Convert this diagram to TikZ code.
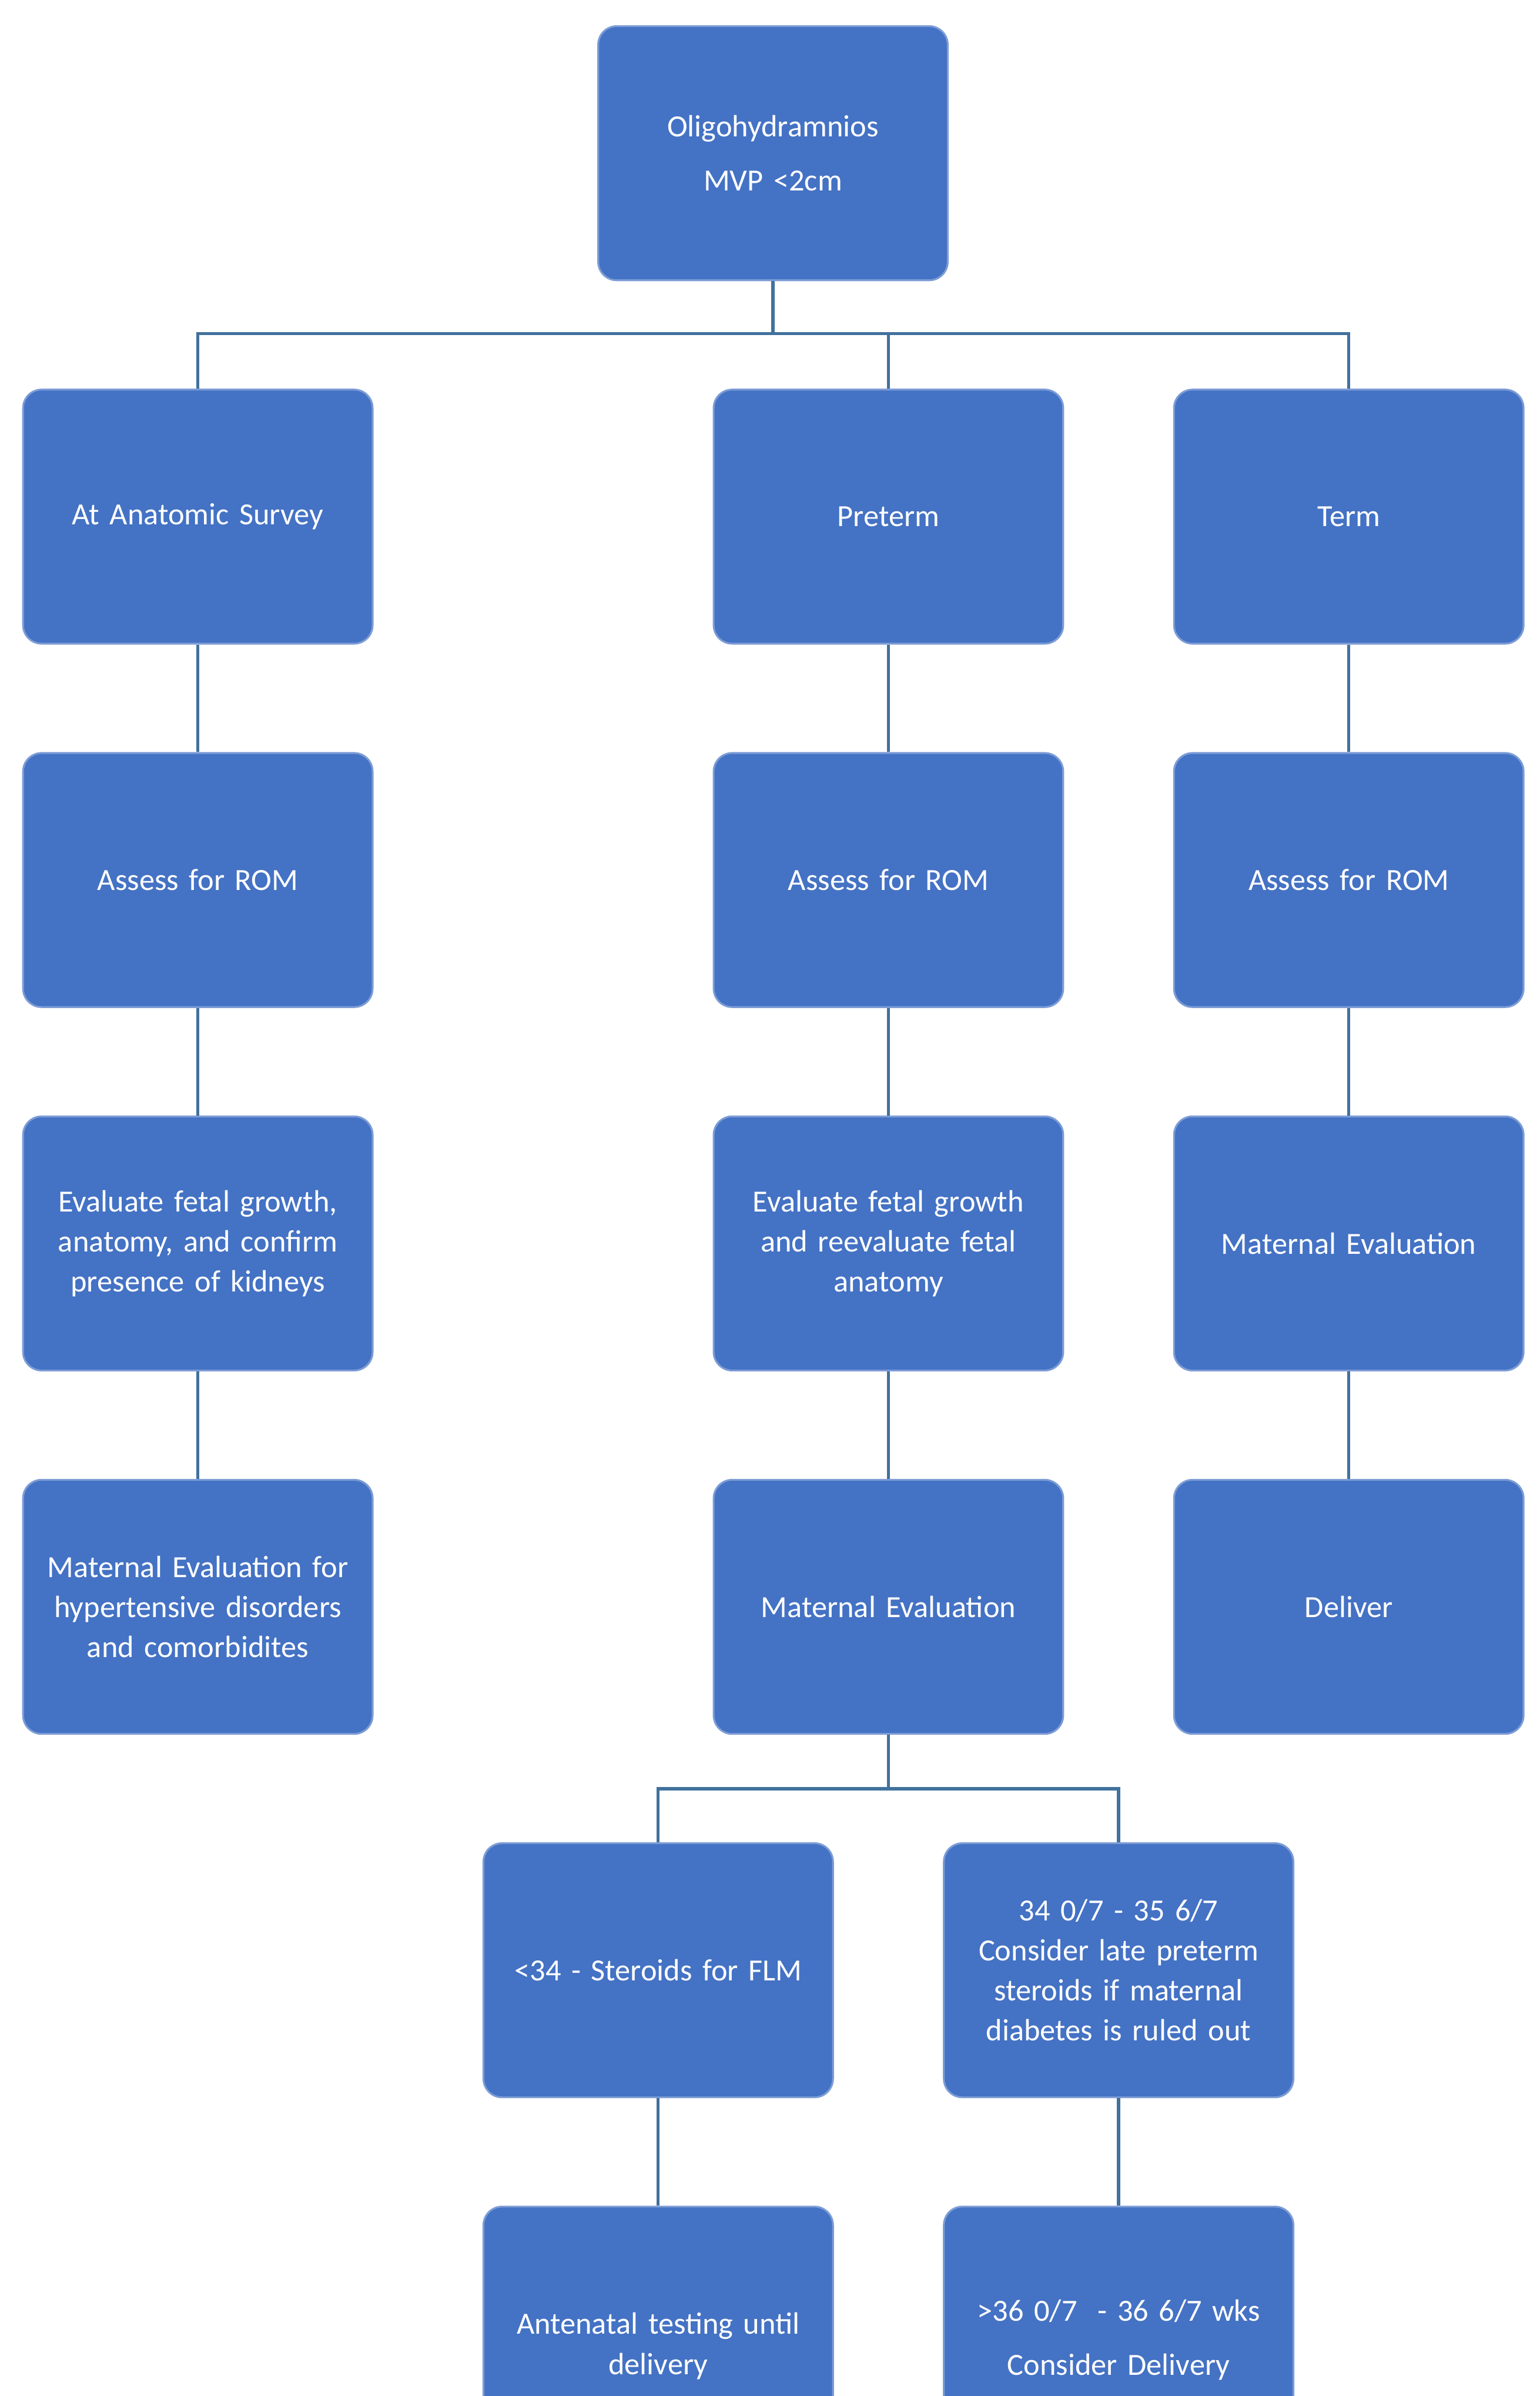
\documentclass[tikz,border=0pt]{standalone}
\usepackage{fontspec}
\setmainfont{Carlito}
\definecolor{boxblue}{HTML}{4472C4}
\definecolor{linecol}{HTML}{41719C}
\begin{document}
\begin{tikzpicture}[x=1pt,y=-1pt,
  box/.style={draw=boxblue!70!white,line width=1.2pt,fill=boxblue,rounded corners=12pt,
    minimum width=227pt,minimum height=165pt,text width=215pt,align=center,
    text=white,font=\fontsize{20}{26}\selectfont,inner sep=2pt},
  conn/.style={draw=linecol,line width=2pt}]
\useasboundingbox (0,0) rectangle (1000,1556);
\clip (0,0) rectangle (1000,1556);
\fill[white] (0,0) rectangle (1000,1556);
\node[box] (top) at (502,99.5) {Oligohydramnios\\[9pt]MVP {<}2cm};
\node[box] (a1) at (128.5,335.5) {At Anatomic Survey};
\node[box] (b1) at (577,335.5) {Preterm};
\node[box] (c1) at (876,335.5) {Term};
\node[box] (a2) at (128.5,571.5) {Assess for ROM};
\node[box] (b2) at (577,571.5) {Assess for ROM};
\node[box] (c2) at (876,571.5) {Assess for ROM};
\node[box] (a3) at (128.5,807.5) {Evaluate fetal growth,\\anatomy, and confirm\\presence of kidneys};
\node[box] (b3) at (577,807.5) {Evaluate fetal growth\\and reevaluate fetal\\anatomy};
\node[box] (c3) at (876,807.5) {Maternal Evaluation};
\node[box] (a4) at (128.5,1043.5) {Maternal Evaluation for\\hypertensive disorders\\and comorbidites};
\node[box] (b4) at (577,1043.5) {Maternal Evaluation};
\node[box] (c4) at (876,1043.5) {Deliver};
\node[box] (d5) at (427.5,1279.5) {{<}34 - Steroids for FLM};
\node[box] (e5) at (726.5,1279.5) {34 0/7 - 35 6/7\\Consider late preterm\\steroids if maternal\\diabetes is ruled out};
\node[box] (d6) at (427.5,1515.5) {\\[4pt]Antenatal testing until\\delivery};
\node[box] (e6) at (726.5,1515.5) {\\[-4pt]{>}36 0/7 \ - 36 6/7 wks\\[9pt]Consider Delivery};
\draw[conn] (top.south) -- ++(0,34) coordinate (h1);
\draw[conn] (a1.north) |- (h1) -| (c1.north);
\draw[conn] (h1) -| (b1.north);
\draw[conn] (b4.south) -- ++(0,35) coordinate (h2);
\draw[conn] (d5.north) |- (h2) -| (e5.north);
\foreach \u/\v in {a1/a2,a2/a3,a3/a4,b1/b2,b2/b3,b3/b4,c1/c2,c2/c3,c3/c4,d5/d6,e5/e6}
  \draw[conn] (\u.south) -- (\v.north);
\end{tikzpicture}
\end{document}
